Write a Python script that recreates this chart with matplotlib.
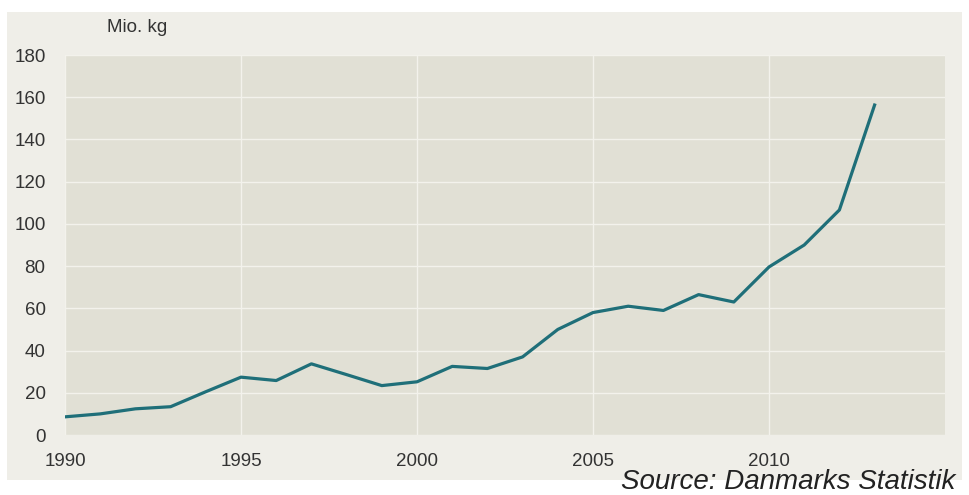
import matplotlib
matplotlib.use("Agg")
import matplotlib.pyplot as plt
from matplotlib.patches import Rectangle

years = [1990, 1991, 1992, 1993, 1994, 1995, 1996, 1997, 1998, 1999, 2000, 2001,
         2002, 2003, 2004, 2005, 2006, 2007, 2008, 2009, 2010, 2011, 2012, 2013]
values = [8.6, 10.0, 12.4, 13.4, 20.5, 27.4, 25.8, 33.7, 28.6, 23.4, 25.2, 32.5,
          31.5, 37.0, 50.0, 58.0, 61.0, 59.0, 66.5, 63.0, 79.6, 90.0, 106.6, 156.3]
xticks = [1990, 1995, 2000, 2005, 2010]
yticks = list(range(0, 181, 20))

plt.rcParams['font.family'] = ['Liberation Sans', 'DejaVu Sans']

fig = plt.figure(figsize=(9.7, 4.95), dpi=100)
fig.patch.set_facecolor('white')
fig.patches.append(Rectangle((7/970, 15/495), 955/970, 468/495, transform=fig.transFigure,
                             facecolor='#efeee8', edgecolor='none', zorder=-10))

ax = fig.add_axes([65/970, 60/495, 880/970, 380/495])
ax.set_facecolor('#e1e0d5')
ax.plot(years, values, color='#1f6f79', lw=2.3, solid_joinstyle='round', zorder=3)
ax.set_xlim(1990, 2015)
ax.set_ylim(0, 180)
ax.set_xticks(xticks)
ax.set_yticks(yticks)
ax.grid(True, color='#f3f2ec', lw=1.0)
ax.set_axisbelow(True)
for s in ax.spines.values():
    s.set_visible(False)
ax.tick_params(length=0, labelsize=13.5, colors='#333333')
ax.tick_params(axis='x', pad=13)
ax.tick_params(axis='y', pad=14)

fig.text(107/970, 1 - 28/495, 'Mio. kg', fontsize=13.5, color='#333333', va='center', ha='left')
fig.text(955/970, 1 - 482/495, 'Source: Danmarks Statistik', fontsize=20, style='italic',
         color='#222222', ha='right', va='center')

fig.savefig('out.png', dpi=100, facecolor=fig.get_facecolor())
